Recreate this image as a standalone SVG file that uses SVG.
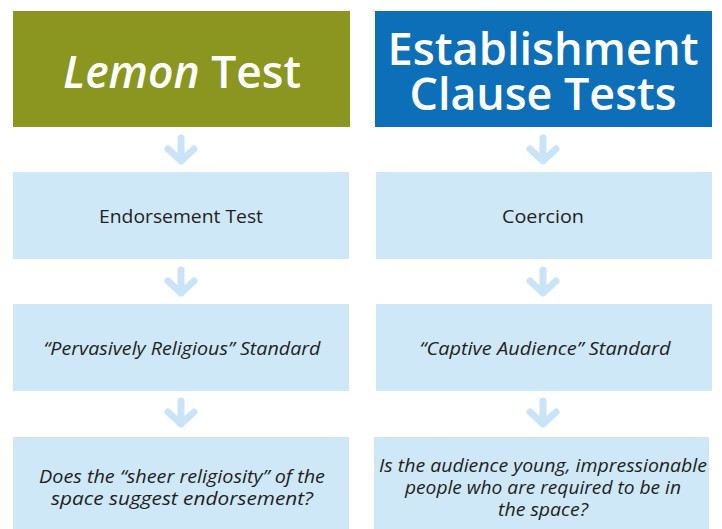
<svg xmlns="http://www.w3.org/2000/svg" width="722" height="529" viewBox="0 0 722 529">
<style>
.hdr{font-family:"Open Sans","Noto Sans",sans-serif;font-weight:600;font-size:46px;fill:#ffffff;text-anchor:middle}
.box{fill:#cfe8f8}
.t{font-family:"Open Sans","Noto Sans",sans-serif;font-size:18px;fill:#231f20;text-anchor:middle}
.i{font-style:italic}
.arr{fill:none;stroke:#c9e4f6;stroke-width:7;stroke-linecap:round;stroke-linejoin:round}
</style>
<rect width="722" height="529" fill="#ffffff"/>
<g id="lemon-header">
<rect x="13" y="11" width="337" height="116" fill="#8a961f"/>
<text class="hdr" x="182" y="88" textLength="238" lengthAdjust="spacingAndGlyphs"><tspan font-style="italic">Lemon</tspan> Test</text>
</g>
<g id="establishment-header">
<rect x="375" y="11" width="337" height="116" fill="#0d6fb8"/>
<text class="hdr" x="543" y="65" textLength="311" lengthAdjust="spacingAndGlyphs">Establishment</text>
<text class="hdr" x="543" y="110" textLength="267" lengthAdjust="spacingAndGlyphs">Clause Tests</text>
</g>
<g id="endorsement">
<rect class="box" x="13" y="172" width="336" height="87"/>
<text class="t" x="181" y="223" textLength="164" lengthAdjust="spacingAndGlyphs">Endorsement Test</text>
</g>
<g id="coercion">
<rect class="box" x="376" y="172" width="336" height="87"/>
<text class="t" x="543" y="223" textLength="82" lengthAdjust="spacingAndGlyphs">Coercion</text>
</g>
<g id="pervasively">
<rect class="box" x="13" y="304" width="336" height="87"/>
<text class="t i" x="182" y="355" textLength="277" lengthAdjust="spacingAndGlyphs">“Pervasively Religious” Standard</text>
</g>
<g id="captive">
<rect class="box" x="376" y="304" width="336" height="87"/>
<text class="t i" x="545" y="355" textLength="251" lengthAdjust="spacingAndGlyphs">“Captive Audience” Standard</text>
</g>
<g id="sheer">
<rect class="box" x="13" y="437" width="336" height="92"/>
<text class="t i" x="182" y="483" textLength="286" lengthAdjust="spacingAndGlyphs">Does the “sheer religiosity” of the</text>
<text class="t i" x="182" y="505" textLength="262" lengthAdjust="spacingAndGlyphs">space suggest endorsement?</text>
</g>
<g id="audience">
<rect class="box" x="374" y="437" width="335" height="92"/>
<text class="t i" x="543" y="472" textLength="328" lengthAdjust="spacingAndGlyphs">Is the audience young, impressionable</text>
<text class="t i" x="543" y="494" textLength="276" lengthAdjust="spacingAndGlyphs">people who are required to be in</text>
<text class="t i" x="543" y="516" textLength="90" lengthAdjust="spacingAndGlyphs">the space?</text>
</g>
<g id="connectors">
<path class="arr" d="M181,138 V161 M168,149 L181,161 L194,149"/>
<path class="arr" d="M543,138 V161 M530,149 L543,161 L556,149"/>
<path class="arr" d="M181,270 V293 M168,281 L181,293 L194,281"/>
<path class="arr" d="M543,270 V293 M530,281 L543,293 L556,281"/>
<path class="arr" d="M181,401 V424 M168,412 L181,424 L194,412"/>
<path class="arr" d="M543,401 V424 M530,412 L543,424 L556,412"/>
</g>
</svg>
